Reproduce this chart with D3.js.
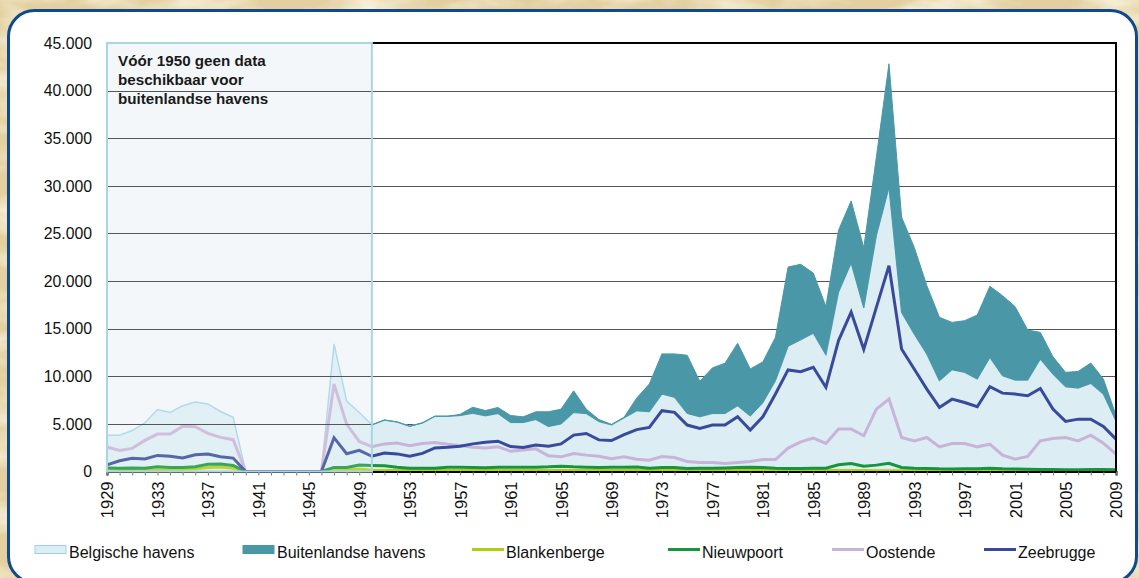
<!DOCTYPE html>
<html>
<head>
<meta charset="utf-8">
<script src="https://cdn.jsdelivr.net/npm/d3@7/dist/d3.min.js"></script>
<style>
  html, body { margin: 0; padding: 0; background: #e8d6aa; }
  svg { display: block; font-family: "Liberation Sans", Arial, Helvetica, sans-serif; }
</style>
</head>
<body>
<div id="chart"></div>
<script>
const years = d3.range(1929, 2010);

// Belgische havens (total of the Belgian ports)
const belgisch = [
  3800, 3800, 4300, 5100, 6500, 6200, 6900, 7300, 7100, 6300, 5700,
  0, 0, 0, 0, 0, 0, 0,
  13400, 7400, 6200,
  4900, 5400, 5200, 4750, 5100, 5800, 5800, 5880, 6120, 5850,
  6090, 5150, 5150, 5460, 4730, 5000, 6200, 6090, 5250, 4900,
  5640, 6380, 6280, 8140, 7790, 6100, 5750, 6100, 6100, 6910,
  5830, 7230, 9550, 13160, 13830, 14530, 12250, 18840, 21900, 17190,
  24800, 29850, 16710, 14440, 12330, 9530, 10690, 10410, 9710, 11980,
  10060, 9600, 9600, 11810, 10230, 8900, 8760, 9250, 8130, 5300
];

// Buitenlandse havens (foreign ports), no data before 1950
const buitenlands = [
  null, null, null, null, null, null, null, null, null, null, null,
  null, null, null, null, null, null, null, null, null, null,
  0, 0, 0, 0, 0, 0, 0, 120, 630, 550,
  630, 730, 590, 810, 1540, 1550, 2270, 460, 210, 40,
  60, 1340, 2910, 4210, 4560, 6110, 3720, 4780, 5270, 6560,
  4940, 4280, 4550, 8310, 7930, 6310, 5080, 6490, 6520, 6310,
  8200, 12970, 9990, 9110, 7190, 6660, 4970, 5430, 6720, 7470,
  8410, 7710, 5260, 2800, 1820, 1510, 1750, 2140, 1580, 600
];

const zeebrugge = [
  700, 1130, 1380, 1310, 1690, 1590, 1410, 1760, 1830, 1550, 1410,
  0, 0, 0, 0, 0, 0, 0,
  3550, 1870, 2220,
  1600, 1950, 1850, 1600, 1900, 2480, 2550, 2660, 2900, 3080,
  3180, 2620, 2520, 2770, 2660, 2900, 3820, 3990, 3320, 3250,
  3880, 4400, 4630, 6390, 6210, 4880, 4530, 4880, 4880, 5750,
  4350, 5750, 8140, 10670, 10490, 10950, 8840, 13750, 16740, 12830,
  17230, 21620, 12860, 10760, 8650, 6730, 7600, 7250, 6800, 8900,
  8230, 8130, 7950, 8720, 6550, 5260, 5500, 5500, 4730, 3400
];

const oostende = [
  2570, 2220, 2430, 3270, 3930, 3930, 4740, 4700, 4000, 3580, 3340,
  0, 0, 0, 0, 0, 0, 0,
  9180, 4980, 3160,
  2600, 2900, 3000, 2700, 2950, 3050, 2870, 2730, 2550, 2480,
  2590, 2130, 2270, 2380, 1650, 1540, 1890, 1720, 1610, 1330,
  1540, 1280, 1190, 1580, 1470, 1050, 950, 950, 840, 950,
  1050, 1260, 1260, 2460, 3120, 3510, 2950, 4460, 4460, 3750,
  6550, 7600, 3570, 3220, 3570, 2590, 2940, 2940, 2590, 2870,
  1720, 1300, 1580, 3220, 3470, 3570, 3220, 3820, 2980, 1820
];

const nieuwpoort = [
  360, 330, 360, 330, 500, 430, 430, 500, 750, 780, 640,
  0, 0, 0, 0, 0, 0, 0,
  430, 430, 680,
  640, 600, 450, 350, 350, 350, 450, 450, 420, 390,
  450, 450, 450, 450, 490, 560, 490, 450, 420, 450,
  450, 470, 350, 420, 420, 320, 350, 350, 380, 420,
  450, 420, 350, 320, 320, 350, 350, 700, 840, 560,
  670, 870, 420, 350, 320, 280, 270, 280, 300, 330,
  280, 260, 230, 220, 200, 180, 180, 200, 200, 180
];

const blankenberge = [
  290, 190, 190, 150, 150, 190, 220, 250, 430, 470, 330,
  0, 0, 0, 0, 0, 0, 0,
  190, 220, 250,
  120, 110, 100, 100, 100, 100, 100, 100, 100, 100,
  100, 100, 100, 100, 100, 100, 100, 100, 100, 100,
  100, 100, 100, 100, 100, 100, 100, 100, 100, 100,
  100, 100, 100, 100, 100, 100, 100, 100, 100, 100,
  80, 80, 70, 70, 60, 60, 60, 60, 60, 60,
  60, 60, 60, 60, 60, 60, 60, 60, 60, 60
];

const yTicks = [0, 5000, 10000, 15000, 20000, 25000, 30000, 35000, 40000, 45000];
const yearLabels = d3.range(1929, 2010, 4);
const noteLines = ['Vóór 1950 geen data', 'beschikbaar voor', 'buitenlandse havens'];
const noteEnd = 1950;

const W = 1139, H = 578;
const plotLeft = 107, plotRight = 1116, plotTop = 43, plotBottom = 471.5;

const rows = years.map((yr, i) => ({
  year: yr,
  bel: belgisch[i],
  fin: buitenlands[i],
  zee: zeebrugge[i],
  oos: oostende[i],
  nie: nieuwpoort[i],
  bla: blankenberge[i]
}));

const x = d3.scaleLinear().domain([1929, 2009]).range([plotLeft, plotRight]);
const y = d3.scaleLinear().domain([0, 45000]).range([plotBottom, plotTop]);

const nl = d3.formatLocale({ decimal: ',', thousands: '.', grouping: [3], currency: ['€', ''] });
const fmt = nl.format(',');

const svg = d3.select('#chart').append('svg')
    .attr('width', W)
    .attr('height', H);

// parchment background
const defs = svg.append('defs');
const paper = defs.append('filter').attr('id', 'paper')
    .attr('x', 0).attr('y', 0).attr('width', '100%').attr('height', '100%');
paper.append('feTurbulence')
    .attr('type', 'fractalNoise')
    .attr('baseFrequency', '0.012 0.03')
    .attr('numOctaves', 4)
    .attr('seed', 3);
paper.append('feColorMatrix')
    .attr('type', 'matrix')
    .attr('values', '0 0 0 0 0.97  0 0 0 0 0.92  0 0 0 0 0.78  2.2 0 0 0 -0.9');

svg.append('rect')
    .attr('width', W).attr('height', H)
    .style('fill', '#e3cf9f');
svg.append('rect')
    .attr('width', W).attr('height', H)
    .attr('filter', 'url(#paper)');

// white panel
svg.append('rect')
    .attr('x', 8.5).attr('y', 10.5)
    .attr('width', 1128).attr('height', 572)
    .attr('rx', 26)
    .style('fill', '#fff')
    .style('stroke', '#0e4a8c')
    .style('stroke-width', 3);

const boxW = x(noteEnd) - plotLeft;

defs.append('clipPath').attr('id', 'boxclip')
  .append('rect')
    .attr('x', plotLeft).attr('y', plotTop)
    .attr('width', boxW).attr('height', plotBottom - plotTop);

// shaded box (behind the data)
svg.append('rect')
    .attr('x', plotLeft).attr('y', plotTop)
    .attr('width', boxW).attr('height', plotBottom - plotTop)
    .style('fill', '#f1f6fa');

// grid
const gridVals = yTicks.filter(d => d > 0 && d < 45000);
svg.append('g').selectAll('line')
    .data(gridVals)
    .enter().append('line')
        .attr('x1', plotLeft).attr('x2', plotRight)
        .attr('y1', d => Math.round(y(d)) + 0.5)
        .attr('y2', d => Math.round(y(d)) + 0.5)
        .style('stroke', '#555')
        .style('stroke-width', 1.2);

// stacked areas
const belArea = d3.area()
    .x(d => x(d.year))
    .y0(y(0))
    .y1(d => y(d.bel));

const finArea = d3.area()
    .defined(d => d.fin !== null)
    .x(d => x(d.year))
    .y0(d => y(d.bel))
    .y1(d => y(d.bel + d.fin));

svg.append('path')
    .datum(rows)
    .attr('d', belArea)
    .style('fill', '#dceef3')
    .style('stroke', '#a6d3ea')
    .style('stroke-width', 1.5);

svg.append('path')
    .datum(rows)
    .attr('d', finArea)
    .style('fill', '#4a97a7')
    .style('stroke', '#4a97a7')
    .style('stroke-width', 1);

// port lines
const series = [
  { key: 'bla', name: 'Blankenberge', color: '#b3cc12' },
  { key: 'nie', name: 'Nieuwpoort', color: '#15963e' },
  { key: 'oos', name: 'Oostende', color: '#c9b3d8' },
  { key: 'zee', name: 'Zeebrugge', color: '#3a4a9a' }
];

series.forEach(s => {
  svg.append('path')
      .datum(rows)
      .attr('d', d3.line().x(d => x(d.year)).y(d => y(d[s.key])))
      .style('fill', 'none')
      .style('stroke', s.color)
      .style('stroke-width', 3)
      .style('stroke-linejoin', 'miter');
});

// wash over the pre-1950 part
svg.append('rect')
    .attr('x', plotLeft).attr('y', plotTop)
    .attr('width', boxW).attr('height', plotBottom - plotTop)
    .style('fill', '#fff')
    .style('opacity', 0.15);

svg.append('g')
    .attr('clip-path', 'url(#boxclip)')
    .selectAll('line')
    .data(gridVals)
    .enter().append('line')
        .attr('x1', plotLeft).attr('x2', plotRight)
        .attr('y1', d => Math.round(y(d)) + 0.5)
        .attr('y2', d => Math.round(y(d)) + 0.5)
        .style('stroke', '#555')
        .style('stroke-width', 1.2);

// frame
svg.append('path')
    .attr('d', `M${x(noteEnd)},${plotTop}H${plotRight}V${plotBottom}`)
    .style('fill', 'none')
    .style('stroke', '#000')
    .style('stroke-width', 2);

// x axis with yearly ticks
const xAxis = svg.append('g')
    .attr('transform', `translate(0,${plotBottom})`)
    .call(d3.axisBottom(x)
        .tickValues(years)
        .tickSize(4)
        .tickFormat(d => yearLabels.includes(d) ? d : ''));

xAxis.select('.domain')
    .style('stroke', '#000')
    .style('stroke-width', 2);
xAxis.selectAll('.tick line')
    .style('stroke', '#777');
xAxis.selectAll('.tick text')
    .attr('transform', 'rotate(-90)')
    .attr('x', -10)
    .attr('y', 0)
    .attr('dy', '0.36em')
    .style('text-anchor', 'end')
    .style('font-size', '16.5px')
    .style('fill', '#111')
    .style('font-family', '"Liberation Sans", Arial, sans-serif');

// box border
svg.append('rect')
    .attr('x', plotLeft).attr('y', plotTop)
    .attr('width', boxW).attr('height', plotBottom - plotTop)
    .style('fill', 'none')
    .style('stroke', '#a9d6e2')
    .style('stroke-width', 2);

// y labels
svg.append('g').selectAll('text')
    .data(yTicks)
    .enter().append('text')
        .attr('x', 92)
        .attr('y', d => y(d))
        .attr('dy', '0.36em')
        .style('text-anchor', 'end')
        .style('font-size', '15.8px')
        .style('fill', '#111')
        .text(d => fmt(d));

// note in the box
svg.append('g').selectAll('text')
    .data(noteLines)
    .enter().append('text')
        .attr('x', 118)
        .attr('y', (d, i) => 65.5 + i * 19.4)
        .style('font-size', '15.2px')
        .style('font-weight', 'bold')
        .style('fill', '#1a1a1a')
        .text(d => d);

// legend
const legend = svg.append('g');
const legendItems = [
  { name: 'Belgische havens', type: 'box', fill: '#dceef3', stroke: '#9fcfe6', x: 35 },
  { name: 'Buitenlandse havens', type: 'box', fill: '#4a97a7', stroke: '#4a97a7', x: 243 },
  { name: 'Blankenberge', type: 'line', color: series[0].color, x: 472 },
  { name: 'Nieuwpoort', type: 'line', color: series[1].color, x: 668 },
  { name: 'Oostende', type: 'line', color: series[2].color, x: 832 },
  { name: 'Zeebrugge', type: 'line', color: series[3].color, x: 984 }
];

legendItems.forEach(it => {
  if (it.type === 'box') {
    legend.append('rect')
        .attr('x', it.x).attr('y', 545.5)
        .attr('width', 31).attr('height', 8)
        .style('fill', it.fill)
        .style('stroke', it.stroke)
        .style('stroke-width', 1);
  } else {
    legend.append('line')
        .attr('x1', it.x).attr('x2', it.x + 32)
        .attr('y1', 549.5).attr('y2', 549.5)
        .style('stroke', it.color)
        .style('stroke-width', 3);
  }
  legend.append('text')
      .attr('x', it.x + 34)
      .attr('y', 557.5)
      .style('font-size', '16px')
      .style('fill', '#111')
      .text(it.name);
});
</script>
</body>
</html>
